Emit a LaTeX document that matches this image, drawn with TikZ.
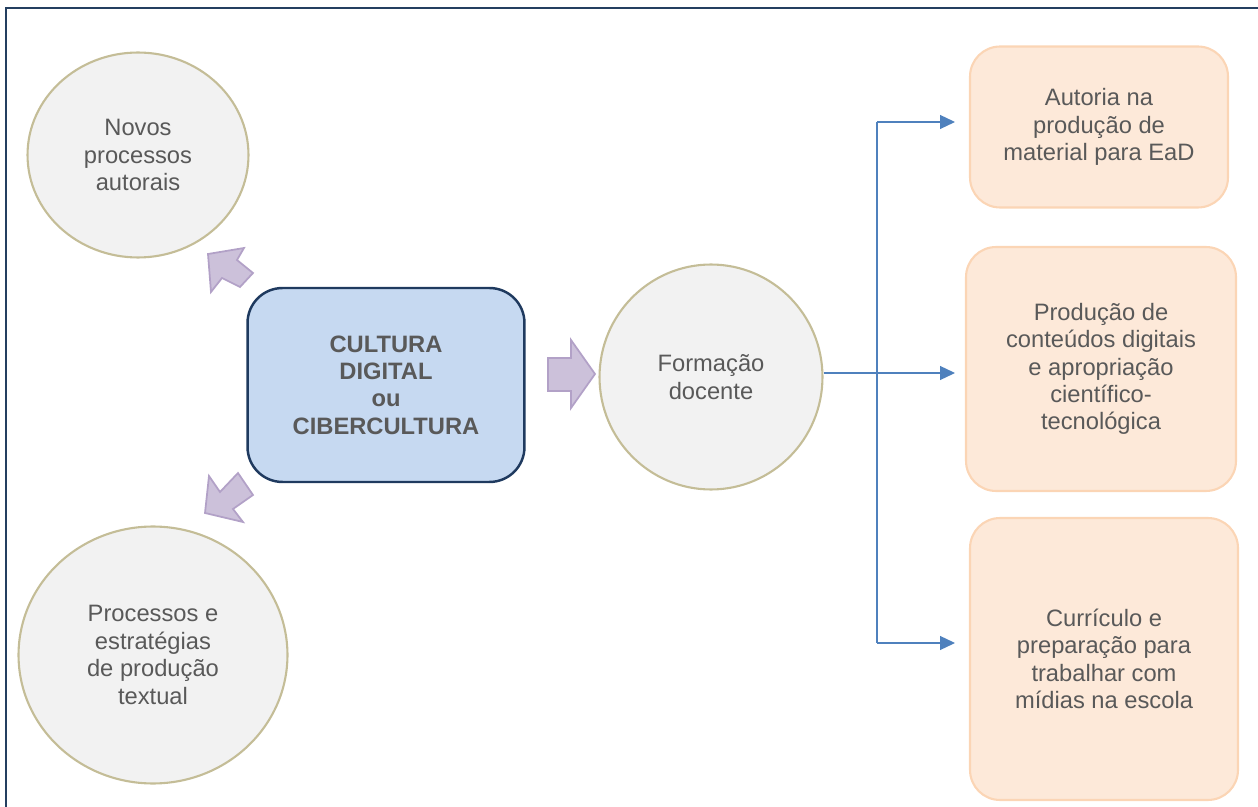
\documentclass[tikz,border=0pt]{standalone}
\usepackage{fontspec}
\setmainfont{Liberation Sans}
\usetikzlibrary{arrows.meta,shapes.geometric}
\definecolor{frameblue}{HTML}{243F60}
\definecolor{circlegray}{HTML}{F2F2F2}
\definecolor{circleline}{HTML}{C4BD97}
\definecolor{coreblue}{HTML}{C6D9F1}
\definecolor{coreline}{HTML}{1F3A5F}
\definecolor{peach}{HTML}{FDE9D9}
\definecolor{peachline}{HTML}{FBD5B5}
\definecolor{lilac}{HTML}{CCC1DA}
\definecolor{lilacline}{HTML}{B2A1C7}
\definecolor{linkblue}{HTML}{4F81BD}
\definecolor{txtgray}{HTML}{595959}

\begin{document}
\begin{tikzpicture}[x=0.02cm,y=-0.02cm,
		every node/.style={text=txtgray, align=center, inner sep=0pt,
			font=\fontsize{13.5}{15.6}\selectfont},
		bubble/.style={ellipse, draw=circleline, fill=circlegray, line width=1.2pt},
		corebox/.style={rectangle, rounded corners=0.7cm, draw=coreline, fill=coreblue,
			line width=1.4pt, minimum width=5.54cm, minimum height=3.88cm,
			font=\fontsize{13.5}{15.6}\selectfont\bfseries},
		topicbox/.style={rectangle, rounded corners=0.6cm, draw=peachline, fill=peach,
			line width=1.2pt},
		blockarrow/.style={draw=lilacline, fill=lilac, line width=1pt, line join=miter},
		link/.style={draw=linkblue, line width=0.7pt},
		linkarrow/.style={link, -{Triangle[length=0.3cm,width=0.28cm]}}
	]
	\useasboundingbox (0,0) rectangle (1258,807);
	% frame
	\draw [frameblue, line width=1.7pt] (6,812) -- (6,8) -- (1262,8);
	%
	% left side
	\node [bubble, minimum width=4.42cm, minimum height=4.1cm] (novos) at (138,155)
		{Novos\\processos\\autorais};
	\node [bubble, minimum width=5.38cm, minimum height=5.14cm] (processos) at (153,655)
		{Processos e\\estratégias\\de produção\\textual};
	\node [corebox] (cultura) at (386,385) {CULTURA\\DIGITAL\\ou\\CIBERCULTURA};
	\node [bubble, minimum width=4.46cm, minimum height=4.5cm] (formacao) at (711,377)
		{Formação\\docente};
	%
	% block arrows
	\draw [blockarrow] (208,254) -- (244,248) -- (237,260) -- (253,273) -- (240,287)
		-- (222,278) -- (211,292) -- cycle;
	\draw [blockarrow] (205,513) -- (209,476) -- (220,492) -- (238,473) -- (253,495)
		-- (233,509) -- (243,522) -- cycle;
	\draw [blockarrow] (595,374) -- (571,340) -- (571,358) -- (548,358) -- (548,391)
		-- (571,391) -- (571,408) -- cycle;
	%
	% right side
	\node [topicbox, minimum width=5.16cm, minimum height=3.22cm] (autoria) at (1099,127)
		{Autoria na\\produção de\\material para EaD};
	\node [topicbox, minimum width=5.4cm, minimum height=4.88cm] (producao) at (1101,369)
		{Produção de\\conteúdos digitais\\e apropriação\\científico-\\tecnológica};
	\node [topicbox, minimum width=5.36cm, minimum height=5.64cm] (curriculo) at (1104,659)
		{Currículo e\\preparação para\\trabalhar com\\mídias na escola};
	%
	% connectors
	\coordinate (branchtop) at (877,122);
	\coordinate (branchbot) at (877,643);
	\coordinate (tipline) at (955,0);
	\draw [link] (branchtop) -- (branchbot);
	\draw [linkarrow] (branchtop) -- (tipline |- branchtop);
	\draw [linkarrow] (formacao.east |- 0,373) -- (tipline |- 0,373);
	\draw [linkarrow] (branchbot) -- (tipline |- branchbot);
\end{tikzpicture}
\end{document}
